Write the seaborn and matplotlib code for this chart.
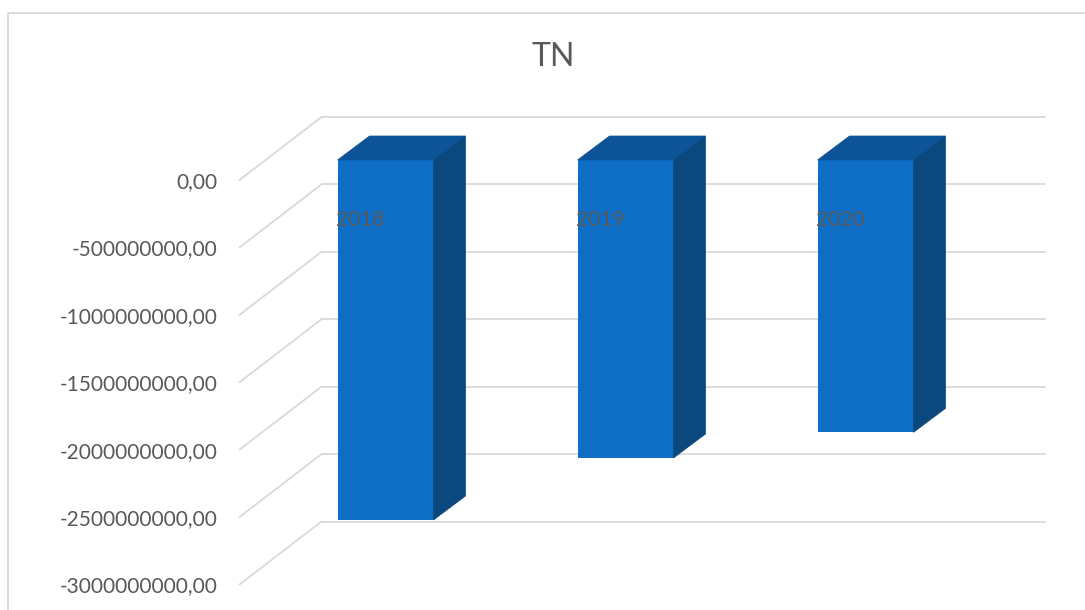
import matplotlib
matplotlib.use("Agg")
import matplotlib.pyplot as plt
import seaborn as sns
import pandas as pd
import numpy as np
from matplotlib.patches import Polygon, Rectangle
from matplotlib.lines import Line2D
from matplotlib.transforms import IdentityTransform, blended_transform_factory

# ---------------- data ----------------
years = ["2018", "2019", "2020"]
tn_values = [-2670000000, -2210000000, -2020000000]
tick_values = [0, -500000000, -1000000000, -1500000000, -2000000000, -2500000000, -3000000000]
tick_labels = ["0,00", "-500000000,00", "-1000000000,00", "-1500000000,00",
               "-2000000000,00", "-2500000000,00", "-3000000000,00"]
title_text = "TN"

# ---------------- style ----------------
FRONT = "#0F6FC6"
TOP = "#0C5497"
SIDE = "#0B487E"
GRID = "#D9D9D9"
TEXT = "#595959"

sns.set_theme(style="white")
plt.rcParams['font.family'] = ['Lato', 'DejaVu Sans']

W, H = 1085, 610
fig = plt.figure(figsize=(W / 100, H / 100), dpi=100)
fig.patch.set_facecolor("white")

# axes = plane of the bars' front faces (pixel geometry)
ax_l, ax_t, ax_w, ax_h = 265.5, 160, 720, 404.5
ax = fig.add_axes([ax_l / W, 1 - (ax_t + ax_h) / H, ax_w / W, ax_h / H])

df = pd.DataFrame({"year": years, "tn": tn_values})
sns.barplot(data=df, x="year", y="tn", color=FRONT, saturation=1, width=0.4,
            ax=ax, linewidth=0, zorder=3)
bars = list(ax.patches)
ax.set_xlim(-0.5, len(years) - 0.5)
ax.set_ylim(min(tick_values), max(tick_values))
ax.set_axis_off()

FRONT_OFF = np.array([-26.0, -20.0])   # front plane relative to bar plane (px)
BACK_OFF = np.array([56.0, 43.0])      # back wall relative to bar plane (px)
DEPTH = np.array([32.0, 24.0])         # bar depth (px)

ident = IdentityTransform()
blend = blended_transform_factory(ax.transAxes, ax.transData)


def disp(x, y):
    return np.asarray(ax.transData.transform((x, y)), dtype=float)


# gridlines: back wall horizontals + left wall diagonals
for v, lab in zip(tick_values, tick_labels):
    left = np.asarray(blend.transform((0, v)), dtype=float)
    right = np.asarray(blend.transform((1, v)), dtype=float)
    b0 = left + BACK_OFF
    b1 = right + BACK_OFF + np.array([3, 0])
    f0 = left + FRONT_OFF
    ax.add_line(Line2D([b0[0], b1[0]], [b0[1], b1[1]], transform=ident,
                       color=GRID, lw=1.3, zorder=1, clip_on=False))
    ax.add_line(Line2D([f0[0], b0[0]], [f0[1], b0[1]], transform=ident,
                       color=GRID, lw=1.3, zorder=1, clip_on=False))
    tp = f0 + np.array([-22, -2])
    ax.text(tp[0], tp[1], lab, transform=ident, ha="right", va="center",
            fontsize=15, color=TEXT, clip_on=False)

# 3D faces of bars
for p in bars:
    x0 = p.get_x()
    x1 = x0 + p.get_width()
    y0 = p.get_y()
    y1 = y0 + p.get_height()
    ytop = max(y0, y1)
    ybot = min(y0, y1)
    a = disp(x0, ytop)
    b = disp(x1, ytop)
    c = disp(x1, ybot)
    top = Polygon([a, b, b + DEPTH, a + DEPTH], closed=True, transform=ident,
                  facecolor=TOP, edgecolor=TOP, lw=0.5, zorder=3, clip_on=False)
    side = Polygon([b, c, c + DEPTH, b + DEPTH], closed=True, transform=ident,
                   facecolor=SIDE, edgecolor=SIDE, lw=0.5, zorder=3, clip_on=False)
    ax.add_patch(top)
    ax.add_patch(side)

# category labels (on the front plane, near zero line)
for i, yr in enumerate(years):
    pos = disp(i, 0) + FRONT_OFF + np.array([1, -40])
    ax.text(pos[0], pos[1], yr, transform=ident, ha="center", va="center",
            fontsize=15, color=TEXT, zorder=5, clip_on=False)

# title
fig.text(553 / W, 1 - 57 / H, title_text, ha="center", va="center",
         fontsize=23, color=TEXT)

# chart border
fig.add_artist(Rectangle((8 / W, -0.1), 1.2, 1 - 13 / H + 0.1, transform=fig.transFigure,
                         fill=False, edgecolor=GRID, lw=1.3))

fig.savefig("out.png", dpi=100, facecolor="white")
